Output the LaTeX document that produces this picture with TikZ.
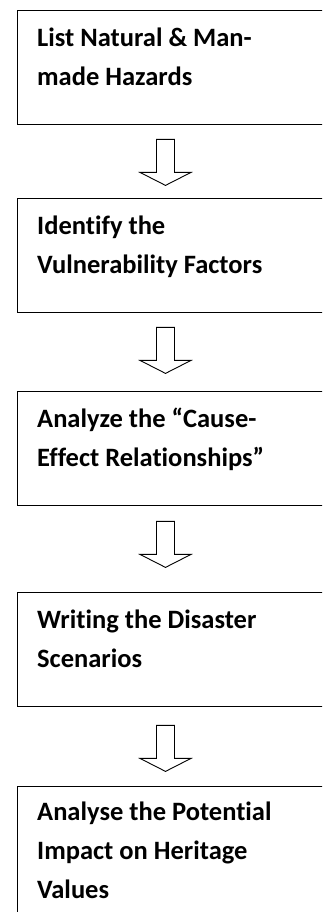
\documentclass[tikz,border=0pt]{standalone}
\usepackage{fontspec}
\setmainfont{Carlito}[Ligatures=NoCommon]
\begin{document}
\begin{tikzpicture}[x=1pt,y=-1pt,
  stepbox/.style={draw=black,line width=1.4pt,fill=white,anchor=north west,
    minimum width=330pt,minimum height=114pt,inner sep=0pt},
  steptext/.style={anchor=north west,inner sep=0pt,align=left,
    font=\fontsize{26.5}{39}\selectfont\bfseries},
  blockarrow/.style={draw=black,line width=0.9pt,fill=white,line join=miter}]
\useasboundingbox (0,0) rectangle (322,912);
\clip (0,0) rectangle (322,912);
% boxes
\node[stepbox] (b1) at (17,10) {};
\node[stepbox] (b2) at (17,198) {};
\node[stepbox] (b3) at (17,391) {};
\node[stepbox] (b4) at (17,592) {};
\node[stepbox,minimum height=140pt] (b5) at (17,786) {};
% texts
\node[steptext] (t1) at ([shift={(20,16)}]b1.north west) {\vrule height 20pt width 0pt List Natural \& Man-\\made Hazards};
\node[steptext] (t2) at ([shift={(20,16)}]b2.north west) {\vrule height 20pt width 0pt Identify the\\Vulnerability Factors};
\node[steptext] (t3) at ([shift={(20,16)}]b3.north west) {\vrule height 20pt width 0pt Analyze the “Cause-\\Effect Relationships”};
\node[steptext] (t4) at ([shift={(20,16)}]b4.north west) {\vrule height 20pt width 0pt Writing the Disaster\\Scenarios};
\node[steptext] (t5) at ([shift={(20,14)}]b5.north west) {\vrule height 20pt width 0pt Analyse the Potential\\Impact on Heritage\\Values};
% block arrows
\foreach \u/\d in {b1/14,b2/14,b3/15,b4/18}{
  \coordinate (a-\u) at ([shift={(148.5,\d)}]\u.south west);
  \draw[blockarrow] (a-\u) ++(-9,0) -- ++(18,0) -- ++(0,33) -- ++(16.5,0)
    -- ++(-25.5,13) -- ++(-25.5,-13) -- ++(16.5,0) -- cycle;
}
\end{tikzpicture}
\end{document}
